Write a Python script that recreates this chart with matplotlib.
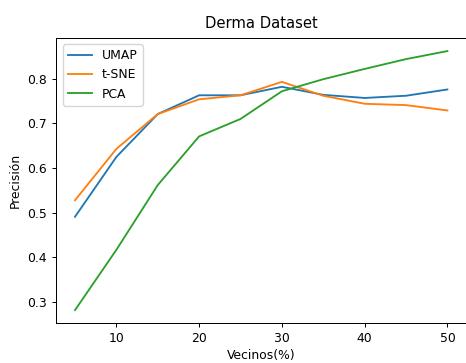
import matplotlib
matplotlib.use("Agg")
import matplotlib.pyplot as plt

vecinos = [5, 10, 15, 20, 25, 30, 35, 40, 45, 50]
umap = [0.491, 0.625, 0.721, 0.763, 0.763, 0.782, 0.764, 0.757, 0.762, 0.776]
tsne = [0.528, 0.643, 0.721, 0.754, 0.763, 0.793, 0.762, 0.744, 0.741, 0.729]
pca = [0.282, 0.417, 0.562, 0.671, 0.710, 0.772, 0.799, 0.822, 0.844, 0.862]

s = 0.89
plt.rcParams.update({
    "font.size": 10 * s,
    "lines.linewidth": 1.5 * s,
    "axes.linewidth": 0.8 * s,
    "xtick.major.size": 3.5 * s,
    "ytick.major.size": 3.5 * s,
    "xtick.major.width": 0.8 * s,
    "ytick.major.width": 0.8 * s,
    "axes.titlesize": 10.6,
})

fig = plt.figure(figsize=(4.66, 3.63), dpi=100)
ax = fig.add_axes([0.121, 0.11, 0.879, 0.785])
ax.plot(vecinos, umap, label="UMAP")
ax.plot(vecinos, tsne, label="t-SNE")
ax.plot(vecinos, pca, label="PCA")
ax.set_title("Derma Dataset", pad=7)
ax.set_xlabel("Vecinos(%)", labelpad=3)
ax.set_ylabel("Precisión")
ax.legend(loc="upper left")
fig.savefig("out.png", dpi=100)
